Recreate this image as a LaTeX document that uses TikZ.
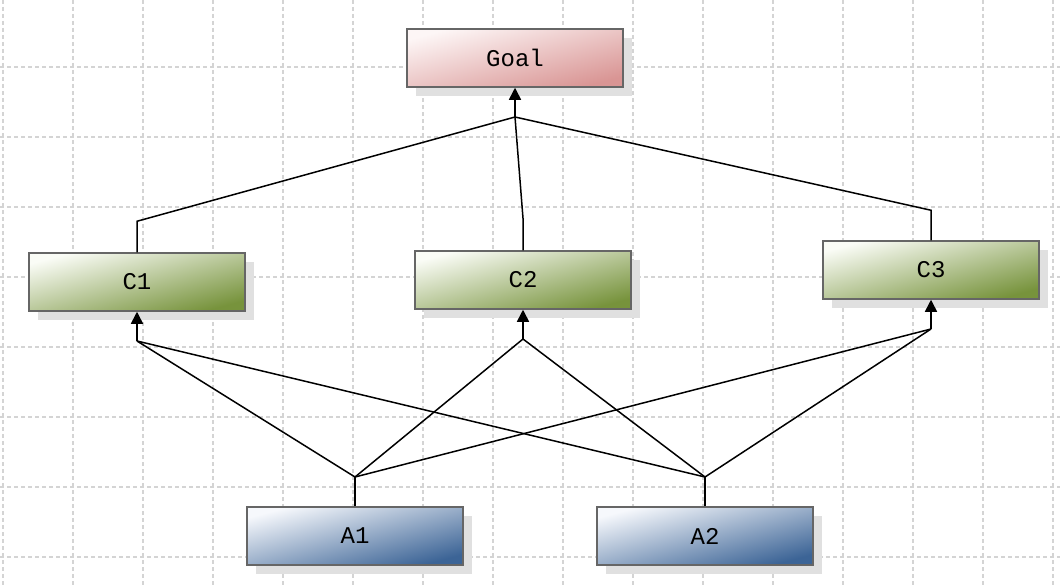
\documentclass[tikz,border=0pt]{standalone}
\usepackage{fontspec}
\setmonofont{Liberation Mono}
\usetikzlibrary{arrows.meta,shadows}
\definecolor{gridc}{RGB}{212,212,212}
\definecolor{borderc}{RGB}{102,102,102}
\definecolor{shadowc}{RGB}{224,224,224}
\definecolor{goalA}{RGB}{253,246,246}
\definecolor{goalB}{RGB}{217,149,148}
\definecolor{critA}{RGB}{250,252,246}
\definecolor{critB}{RGB}{119,147,60}
\definecolor{altA}{RGB}{246,248,252}
\definecolor{altB}{RGB}{60,100,150}
\tikzset{
  box/.style={rectangle, draw=borderc, line width=1.5pt, minimum width=216pt, minimum height=58pt,
    inner sep=0pt, font=\ttfamily\fontsize{24}{24}\selectfont,
    drop shadow={shadow xshift=9pt, shadow yshift=-9pt, fill=shadowc, opacity=1}},
  goalbox/.style={box, top color=goalA, bottom color=goalB, shading angle=15},
  critbox/.style={box, top color=critA, bottom color=critB, shading angle=15},
  altbox/.style={box, top color=altA, bottom color=altB, shading angle=15},
  conn/.style={line width=1.5pt, black},
  arr/.style={conn, -{Triangle[width=12pt,length=12pt]}},
  gridline/.style={gridc, line width=1.5pt, dash pattern=on 4pt off 3pt}
}
\begin{document}
\begin{tikzpicture}[x=1pt,y=-1pt]
\fill[white] (0,0) rectangle (1060,586);
\useasboundingbox (0,0) rectangle (1060,586);
\foreach \gx in {3,73,...,1053} \draw[gridline] (\gx,0) -- (\gx,586);
\foreach \gy in {67,137,...,557} \draw[gridline] (0,\gy) -- (1060,\gy);

\node[goalbox] (goal) at (515,58) {Goal};
\node[critbox] (c1) at (137,282) {C1};
\node[critbox] (c2) at (523,280) {C2};
\node[critbox] (c3) at (931,270) {C3};
\node[altbox] (a1) at (355,536) {A1};
\node[altbox] (a2) at (705,536) {A2};

\coordinate (jg) at (515,117);
\coordinate (j1) at (137,341);
\coordinate (j2) at (523,339);
\coordinate (j3) at (931,329);
\coordinate (ja1) at (355,477);
\coordinate (ja2) at (705,477);

\draw[conn] (c1.north) -- ++(0,-31) -- (jg);
\draw[conn] (c2.north) -- ++(0,-32) -- (jg);
\draw[conn] (c3.north) -- ++(0,-30) -- (jg);
\draw[arr] (jg) -- (goal.south);

\draw[conn] (a1.north) -- (ja1);
\draw[conn] (a2.north) -- (ja2);
\draw[conn] (ja1) -- (j1);
\draw[conn] (ja1) -- (j2);
\draw[conn] (ja1) -- (j3);
\draw[conn] (ja2) -- (j1);
\draw[conn] (ja2) -- (j2);
\draw[conn] (ja2) -- (j3);
\draw[arr] (j1) -- (c1.south);
\draw[arr] (j2) -- (c2.south);
\draw[arr] (j3) -- (c3.south);
\end{tikzpicture}
\end{document}
